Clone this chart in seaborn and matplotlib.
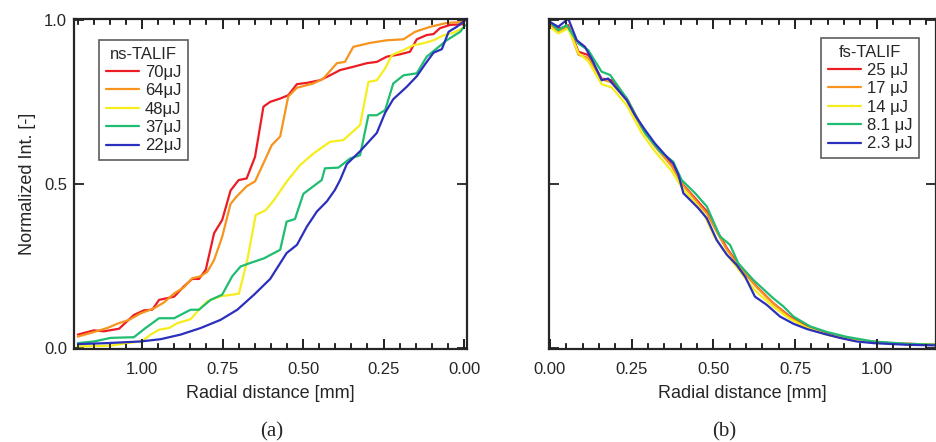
import pandas as pd
import seaborn as sns
import matplotlib
matplotlib.use("Agg")
import matplotlib.pyplot as plt
from matplotlib.ticker import MultipleLocator, FormatStrFormatter, NullLocator
from matplotlib.transforms import blended_transform_factory

# ---- (a) ns-TALIF, radial distance [mm] vs normalized intensity ----
ns_labels = ["70μJ", "64μJ", "48μJ", "37μJ", "22μJ"]

ns_x_70 = [1.199, 1.149, 1.118, 1.071, 1.025, 0.994, 0.968, 0.947, 0.900, 0.870, 0.844, 0.823,
           0.802, 0.776, 0.751, 0.725, 0.700, 0.675, 0.649, 0.623, 0.602, 0.571, 0.546, 0.519,
           0.488, 0.447, 0.416, 0.385, 0.344, 0.302, 0.271, 0.240, 0.199, 0.168, 0.147, 0.116,
           0.095, 0.075, 0.043, 0.002]
ns_y_70 = [0.040, 0.053, 0.050, 0.058, 0.100, 0.114, 0.116, 0.146, 0.156, 0.187, 0.210, 0.210,
           0.238, 0.350, 0.390, 0.480, 0.512, 0.517, 0.583, 0.736, 0.751, 0.761, 0.771, 0.805,
           0.809, 0.817, 0.832, 0.848, 0.858, 0.869, 0.873, 0.889, 0.896, 0.904, 0.942, 0.955,
           0.958, 0.976, 0.986, 0.988]

ns_x_64 = [1.199, 1.159, 1.108, 1.077, 1.040, 1.004, 0.963, 0.932, 0.900, 0.870, 0.844, 0.818,
           0.797, 0.776, 0.751, 0.725, 0.706, 0.675, 0.649, 0.623, 0.597, 0.571, 0.546, 0.519,
           0.468, 0.437, 0.395, 0.370, 0.344, 0.292, 0.240, 0.188, 0.152, 0.106, 0.054, 0.002]
ns_y_64 = [0.034, 0.045, 0.060, 0.073, 0.085, 0.105, 0.120, 0.138, 0.166, 0.184, 0.212, 0.218,
           0.232, 0.268, 0.339, 0.439, 0.462, 0.493, 0.508, 0.563, 0.619, 0.645, 0.767, 0.794,
           0.807, 0.822, 0.869, 0.873, 0.919, 0.931, 0.939, 0.942, 0.965, 0.980, 0.992, 0.995]

ns_x_48 = [1.200, 1.100, 1.000, 0.973, 0.947, 0.916, 0.890, 0.849, 0.823, 0.797, 0.756, 0.699,
           0.673, 0.647, 0.616, 0.590, 0.551, 0.509, 0.468, 0.416, 0.375, 0.323, 0.297, 0.271,
           0.245, 0.224, 0.188, 0.157, 0.126, 0.095, 0.064, 0.033, 0.002]
ns_y_48 = [0.004, 0.006, 0.020, 0.040, 0.055, 0.060, 0.075, 0.087, 0.116, 0.142, 0.157, 0.165,
           0.268, 0.405, 0.420, 0.451, 0.507, 0.558, 0.593, 0.629, 0.634, 0.680, 0.812, 0.817,
           0.853, 0.894, 0.909, 0.924, 0.930, 0.939, 0.954, 0.962, 0.977]

ns_x_37 = [1.199, 1.149, 1.097, 1.025, 0.989, 0.947, 0.900, 0.849, 0.823, 0.787, 0.751, 0.720,
           0.694, 0.663, 0.621, 0.602, 0.571, 0.551, 0.525, 0.499, 0.468, 0.442, 0.432, 0.390,
           0.354, 0.323, 0.297, 0.271, 0.245, 0.220, 0.188, 0.147, 0.116, 0.085, 0.054, 0.012,
           -0.003]
ns_y_37 = [0.014, 0.019, 0.030, 0.032, 0.060, 0.090, 0.090, 0.116, 0.116, 0.146, 0.162, 0.218,
           0.248, 0.259, 0.273, 0.283, 0.299, 0.385, 0.393, 0.470, 0.493, 0.512, 0.548, 0.550,
           0.578, 0.588, 0.710, 0.710, 0.726, 0.807, 0.832, 0.838, 0.889, 0.914, 0.939, 0.965,
           0.985]

ns_x_22 = [1.199, 1.108, 1.004, 0.942, 0.880, 0.818, 0.756, 0.704, 0.652, 0.602, 0.551, 0.519,
           0.488, 0.457, 0.426, 0.401, 0.385, 0.364, 0.323, 0.271, 0.245, 0.220, 0.178, 0.147,
           0.121, 0.095, 0.069, 0.048, 0.023, -0.003]
ns_y_22 = [0.011, 0.014, 0.019, 0.026, 0.040, 0.060, 0.085, 0.116, 0.162, 0.210, 0.289, 0.314,
           0.370, 0.416, 0.447, 0.482, 0.512, 0.561, 0.600, 0.656, 0.718, 0.759, 0.797, 0.829,
           0.866, 0.901, 0.912, 0.965, 0.980, 1.000]

# ---- (b) fs-TALIF ----
fs_labels = ["25 μJ", "17 μJ", "14 μJ", "8.1 μJ", "2.3 μJ"]

fs_x_25 = [0.000, 0.031, 0.056, 0.087, 0.117, 0.158, 0.189, 0.235, 0.281, 0.321, 0.372, 0.408,
           0.480, 0.515, 0.541, 0.581, 0.632, 0.683, 0.734, 0.786, 0.847, 0.928, 1.040, 1.180]
fs_y_25 = [0.990, 0.975, 0.985, 0.904, 0.894, 0.822, 0.817, 0.761, 0.675, 0.619, 0.558, 0.497,
           0.416, 0.350, 0.304, 0.248, 0.187, 0.136, 0.095, 0.065, 0.043, 0.024, 0.014, 0.009]

fs_x_17 = [0.000, 0.025, 0.056, 0.087, 0.117, 0.158, 0.189, 0.235, 0.281, 0.321, 0.372, 0.408,
           0.480, 0.515, 0.541, 0.581, 0.632, 0.683, 0.734, 0.786, 0.847, 0.928, 1.040, 1.180]
fs_y_17 = [0.985, 0.965, 0.980, 0.895, 0.885, 0.820, 0.810, 0.755, 0.670, 0.615, 0.555, 0.495,
           0.410, 0.345, 0.300, 0.245, 0.185, 0.135, 0.092, 0.062, 0.040, 0.022, 0.013, 0.009]

fs_x_14 = [0.000, 0.025, 0.056, 0.087, 0.117, 0.158, 0.189, 0.235, 0.281, 0.321, 0.372, 0.403,
           0.470, 0.505, 0.541, 0.576, 0.627, 0.683, 0.734, 0.786, 0.847, 0.928, 1.040, 1.180]
fs_y_14 = [0.980, 0.960, 0.975, 0.900, 0.875, 0.805, 0.795, 0.740, 0.655, 0.600, 0.540, 0.490,
           0.410, 0.335, 0.285, 0.240, 0.175, 0.125, 0.088, 0.060, 0.040, 0.022, 0.013, 0.009]

fs_x_81 = [0.000, 0.025, 0.051, 0.087, 0.117, 0.158, 0.184, 0.235, 0.291, 0.337, 0.377, 0.403,
           0.444, 0.480, 0.520, 0.551, 0.576, 0.622, 0.683, 0.714, 0.745, 0.796, 0.847, 0.908,
           0.989, 1.090, 1.180]
fs_y_81 = [0.995, 0.970, 0.985, 0.929, 0.909, 0.843, 0.833, 0.761, 0.655, 0.599, 0.568, 0.512,
           0.472, 0.431, 0.340, 0.314, 0.258, 0.207, 0.151, 0.126, 0.095, 0.065, 0.048, 0.033,
           0.019, 0.012, 0.009]

fs_x_23 = [0.000, 0.025, 0.056, 0.082, 0.107, 0.132, 0.158, 0.178, 0.204, 0.235, 0.260, 0.291,
           0.321, 0.352, 0.377, 0.393, 0.408, 0.454, 0.480, 0.510, 0.541, 0.571, 0.597, 0.627,
           0.663, 0.704, 0.745, 0.786, 0.836, 0.887, 0.938, 0.989, 1.090, 1.180]
fs_y_23 = [0.995, 0.980, 1.005, 0.939, 0.919, 0.873, 0.817, 0.822, 0.792, 0.756, 0.710, 0.665,
           0.624, 0.589, 0.563, 0.528, 0.472, 0.426, 0.395, 0.329, 0.284, 0.253, 0.217, 0.156,
           0.131, 0.095, 0.073, 0.057, 0.043, 0.030, 0.019, 0.014, 0.009, 0.007]

colors = ["#ec1c24", "#f7941d", "#f5ee1c", "#1fbd72", "#2b2fbd"]


def long_frame(series, labels):
    rows = []
    for (xs, ys), lab in zip(series, labels):
        for x, y in zip(xs, ys):
            rows.append({"r": x, "I": y, "Energy": lab})
    return pd.DataFrame(rows)


def draw_panel(ax, df, labels, title, anchor, loc):
    sns.lineplot(data=df, x="r", y="I", hue="Energy", hue_order=labels,
                 palette=colors, estimator=None, sort=False,
                 linewidth=1.6, ax=ax)
    handles, labs = ax.get_legend_handles_labels()
    leg = ax.legend(handles, labs, title=title, loc=loc, bbox_to_anchor=anchor,
                    borderaxespad=0, fontsize=12, title_fontsize=12,
                    handlelength=2.0, handletextpad=0.35, labelspacing=0.2,
                    borderpad=0.4, fancybox=False, frameon=True)
    leg.get_frame().set_edgecolor("#333333")
    leg.get_frame().set_linewidth(1.2)


def style_axis(ax, xlim, show_ylabels):
    ax.set_xlim(*xlim)
    ax.set_ylim(-0.004, 1.004)
    ax.xaxis.set_major_locator(MultipleLocator(0.25))
    ax.xaxis.set_minor_locator(MultipleLocator(0.05))
    ax.yaxis.set_major_locator(MultipleLocator(0.5))
    ax.yaxis.set_minor_locator(NullLocator())
    ax.xaxis.set_major_formatter(FormatStrFormatter("%.2f"))
    ax.yaxis.set_major_formatter(FormatStrFormatter("%.1f"))
    for sp in ax.spines.values():
        sp.set_visible(True)
        sp.set_linewidth(1.6)
    ax.set_xlabel("Radial distance [mm]", fontsize=13, labelpad=6)
    ax.tick_params(which="both", direction="in", top=True, right=True, bottom=True,
                   left=True, labelsize=12, color="#222222")
    ax.tick_params(which="major", length=7, width=1.3)
    ax.tick_params(which="minor", length=4, width=1.2)
    ax.tick_params(axis="x", which="major", pad=9)
    ax.tick_params(axis="y", which="major", pad=5, labelleft=show_ylabels)


def add_x_tick_marks(ax):
    # inward tick marks on top and bottom edges, at the locator positions
    lo, hi = sorted(ax.get_xlim())
    ylim = ax.get_ylim()
    trans = blended_transform_factory(ax.transData, ax.transAxes)
    for locs, frac, lw in [(ax.xaxis.get_majorticklocs(), 0.030, 1.3),
                           (ax.xaxis.get_minorticklocs(), 0.015, 1.2)]:
        locs = [v for v in locs if lo <= v <= hi]
        ax.vlines(locs, 0, frac, transform=trans, colors="#222222",
                  linewidth=lw, clip_on=False, zorder=3)
        ax.vlines(locs, 1 - frac, 1, transform=trans, colors="#222222",
                  linewidth=lw, clip_on=False, zorder=3)
    ax.set_xlim(*ax.get_xlim())
    ax.set_ylim(*ylim)


sns.set_style("ticks")
plt.rcParams["font.family"] = ["Liberation Sans", "DejaVu Sans"]
plt.rcParams["xtick.direction"] = "in"
plt.rcParams["ytick.direction"] = "in"
plt.rcParams["xtick.top"] = True
plt.rcParams["ytick.right"] = True

fig = plt.figure(figsize=(9.37, 4.42), dpi=100)
ax_a = fig.add_axes([74 / 937, 1 - 349 / 442, 393 / 937, 330 / 442])
ax_b = fig.add_axes([549 / 937, 1 - 349 / 442, 387 / 937, 330 / 442])

df_a = long_frame([(ns_x_70, ns_y_70), (ns_x_64, ns_y_64), (ns_x_48, ns_y_48),
                   (ns_x_37, ns_y_37), (ns_x_22, ns_y_22)], ns_labels)
df_b = long_frame([(fs_x_25, fs_y_25), (fs_x_17, fs_y_17), (fs_x_14, fs_y_14),
                   (fs_x_81, fs_y_81), (fs_x_23, fs_y_23)], fs_labels)

draw_panel(ax_a, df_a, ns_labels, "ns-TALIF", ((99 - 74) / 393, (349 - 40) / 330), "upper left")
draw_panel(ax_b, df_b, fs_labels, "fs-TALIF", ((919 - 549) / 387, (349 - 38) / 330), "upper right")

ax_a.set_ylabel("Normalized Int. [-]", fontsize=13, labelpad=6)
ax_b.set_ylabel("")

fig.text(272 / 937, 1 - 432 / 442, "(a)", ha="center", va="center",
         fontsize=15, family="Liberation Serif")
fig.text(724 / 937, 1 - 432 / 442, "(b)", ha="center", va="center",
         fontsize=15, family="Liberation Serif")

style_axis(ax_a, (1.211, -0.009), True)
style_axis(ax_b, (-0.003, 1.181), False)
add_x_tick_marks(ax_a)
add_x_tick_marks(ax_b)

fig.savefig("out.png", dpi=100)
